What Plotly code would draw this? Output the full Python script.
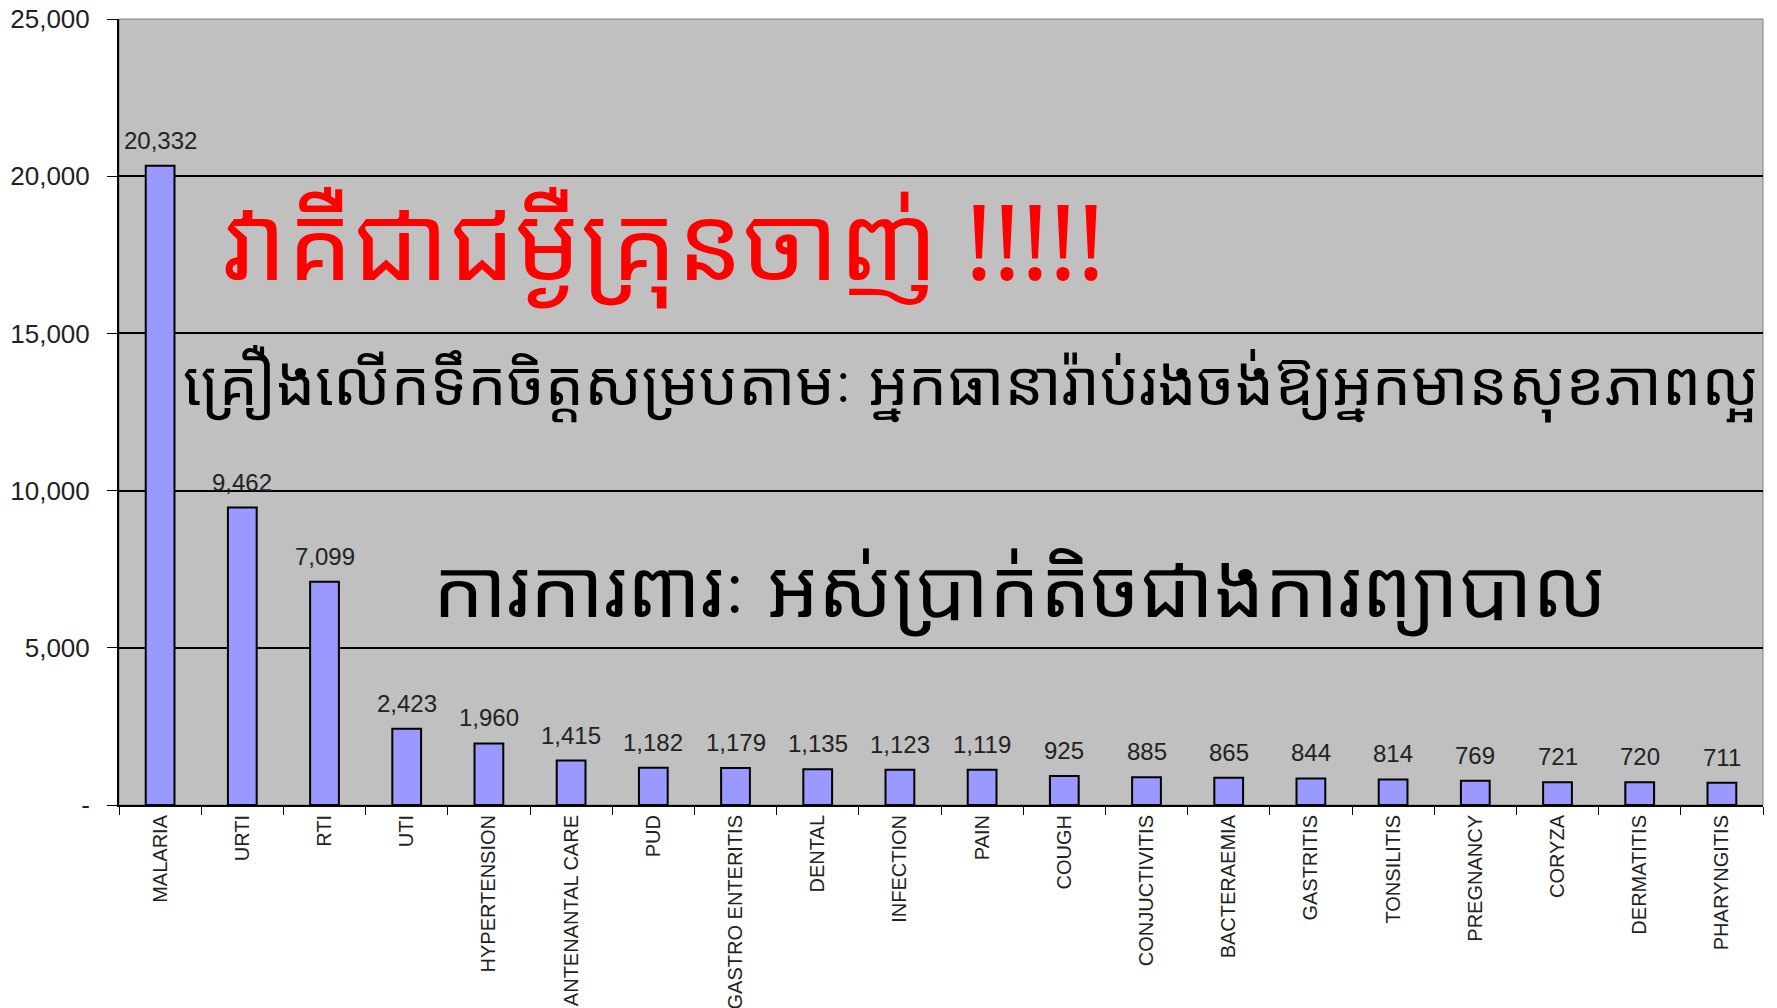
"""Malaria top-20 diagnoses bar chart with Khmer captions."""

import plotly.graph_objects as go

CATEGORIES = [
    "MALARIA", "URTI", "RTI", "UTI", "HYPERTENSION", "ANTENANTAL CARE",
    "PUD", "GASTRO ENTERITIS", "DENTAL", "INFECTION", "PAIN", "COUGH",
    "CONJUCTIVITIS", "BACTERAEMIA", "GASTRITIS", "TONSILITIS", "PREGNANCY",
    "CORYZA", "DERMATITIS", "PHARYNGITIS",
]
CASES = [
    20332, 9462, 7099, 2423, 1960, 1415, 1182, 1179, 1135, 1123, 1119, 925,
    885, 865, 844, 814, 769, 721, 720, 711,
]
Y_TICKS = [0, 5000, 10000, 15000, 20000, 25000]
Y_TICK_LABELS = ["-", "5,000", "10,000", "15,000", "20,000", "25,000"]

HEADLINE = "វាគឺជាជម្ងឺគ្រុនចាញ់ !!!!!"
LINE_2 = "គ្រឿងលើកទឹកចិត្តសម្របតាមៈ អ្នកធានារ៉ាប់រងចង់ឱ្យអ្នកមានសុខភាពល្អ"
LINE_3 = "ការការពារៈ អស់ប្រាក់តិចជាងការព្យាបាល"

BAR_FILL = "#9999FF"
PLOT_BG = "#C0C0C0"
BASE_FONT = "Arial, Liberation Sans"
KHMER_FONT = "Khmer OS, Noto Sans Khmer, Khmer OS System, DaunPenh, Noto Sans, DejaVu Sans"

fig = go.Figure(
    go.Bar(
        x=CATEGORIES,
        y=CASES,
        marker=dict(color=BAR_FILL, line=dict(color="black", width=2)),
        hovertemplate="%{x}: %{y:,}<extra></extra>",
    )
)

# value labels above each bar
for cat, val in zip(CATEGORIES, CASES):
    fig.add_annotation(
        x=cat, y=val, text=f"{val:,}",
        xanchor="center", yanchor="bottom", yshift=10,
        showarrow=False,
        font=dict(family=BASE_FONT, size=24, color="#222"),
    )

# Khmer captions
fig.add_annotation(
    text=HEADLINE, xref="paper", yref="paper", x=0.062, y=0.719,
    xanchor="left", yanchor="middle", showarrow=False,
    font=dict(family=KHMER_FONT, size=104, color="#FF0000"),
)
fig.add_annotation(
    text=LINE_2, xref="paper", yref="paper", x=0.038, y=0.539,
    xanchor="left", yanchor="middle", showarrow=False,
    font=dict(family=KHMER_FONT, size=62, color="black"),
)
fig.add_annotation(
    text=LINE_3, xref="paper", yref="paper", x=0.19, y=0.279,
    xanchor="left", yanchor="middle", showarrow=False,
    font=dict(family=KHMER_FONT, size=80, color="black"),
)

# thin grey frame round the plot area
fig.add_shape(
    type="rect", xref="paper", yref="paper", x0=0, y0=0, x1=1, y1=1,
    line=dict(color="#808080", width=1), layer="below",
)

fig.update_layout(
    width=1777, height=1008,
    margin=dict(l=119, r=14, t=19, b=203),
    paper_bgcolor="white",
    plot_bgcolor=PLOT_BG,
    bargap=0.65,
    showlegend=False,
    font=dict(family=BASE_FONT, color="#222"),
)
fig.update_xaxes(
    tickangle=-90,
    tickfont=dict(size=20),
    ticks="outside", tickson="boundaries", ticklen=8, tickcolor="black",
    showline=True, linecolor="black", linewidth=2,
    showgrid=False, automargin=False,
)
fig.update_yaxes(
    range=[0, 25000],
    tickvals=Y_TICKS, ticktext=Y_TICK_LABELS,
    tickfont=dict(size=26),
    ticks="outside", ticklen=10, tickcolor="black",
    ticklabelstandoff=12,
    showline=True, linecolor="black", linewidth=2,
    showgrid=True, gridcolor="black", gridwidth=1.5,
    zeroline=False, automargin=False,
)

# drop the browser's default body margin so the figure sits at the page corner
fig.write_html(
    "out.html",
    config={"displayModeBar": False},
    post_script="document.body.style.margin = '0';",
)
